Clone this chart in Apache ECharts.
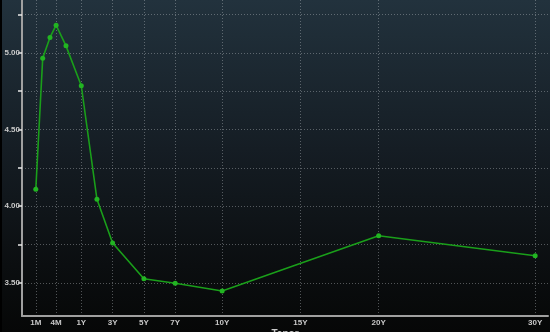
<!DOCTYPE html>
<html>
<head>
<meta charset="utf-8">
<script src="https://cdn.jsdelivr.net/npm/echarts@6/dist/echarts.min.js"></script>
<style>
html,body{margin:0;padding:0;background:#000;}
#chart{width:550px;height:332px;}
</style>
</head>
<body>
<div id="chart"></div>
<script>
// Tenors of the curve and their yields (%)
const tenors = ['1M','2M','3M','4M','6M','1Y','2Y','3Y','5Y','7Y','10Y','20Y','30Y'];
const yields = [4.11, 4.965, 5.10, 5.18, 5.045, 4.785, 4.045, 3.76, 3.527, 3.497, 3.447, 3.807, 3.677];
// Tick labels on the tenor axis
const tickLabels = ['1M','4M','1Y','3Y','5Y','7Y','10Y','15Y','20Y','30Y'];
// Y-axis ticks / labels
const yTicks = [3.5, 3.75, 4.0, 4.25, 4.5, 4.75, 5.0, 5.25];
const yLabels = [3.5, 4.0, 4.5, 5.0];

// Tenor scale: linear in years from 1Y onward, with a stretched short end (< 1Y)
const shortEndKnots = [[1/12, -1.907], [1/6, -1.466], [1/4, -1.0], [1/3, -0.61], [1/2, 0.022], [1, 1]];
function years(label) {
  const n = parseFloat(label);
  return label.slice(-1) === 'M' ? n / 12 : n;
}
function scalePos(y) {
  if (y >= 1) return y;
  for (let i = 0; i < shortEndKnots.length - 1; i++) {
    const a = shortEndKnots[i], b = shortEndKnots[i + 1];
    if (y <= b[0]) {
      const t = (y - a[0]) / (b[0] - a[0]);
      return a[1] + t * (b[1] - a[1]);
    }
  }
  return y;
}
const tickPos = tickLabels.map(l => scalePos(years(l)));
const labelAt = {};
tickLabels.forEach((l, i) => { labelAt[tickPos[i].toFixed(4)] = l; });

const seriesData = tenors.map((t, i) => [scalePos(years(t)), yields[i]]);

const chart = echarts.init(document.getElementById('chart'), null, {renderer: 'canvas'});
const gridColor = 'rgba(190,195,200,0.4)';
chart.setOption({
  animation: false,
  backgroundColor: new echarts.graphic.LinearGradient(0, 0, 0, 1, [
    {offset: 0, color: '#22323d'},
    {offset: 0.45, color: '#151d24'},
    {offset: 0.8, color: '#0b0e10'},
    {offset: 1, color: '#060707'}
  ]),
  grid: {left: 22, right: 2, top: 0, bottom: 16, outerBoundsMode: 'none', containLabel: false},
  xAxis: {
    type: 'value',
    min: -2.789,
    max: 30.82,
    name: 'Tenor',
    nameLocation: 'middle',
    nameGap: 0,
    nameMoveOverlap: false,
    nameTextStyle: {color: '#c8c8c8', fontSize: 10, fontFamily: 'Liberation Sans', fontWeight: 'bold', verticalAlign: 'top', padding: [13, 0, 0, 0]},
    axisLine: {show: true, onZero: false, lineStyle: {color: '#a0a0a0', width: 2}},
    axisTick: {show: false, customValues: tickPos},
    axisLabel: {
      customValues: tickPos,
      color: '#c8c8c8', fontSize: 8, fontFamily: 'Liberation Sans', fontWeight: 'bold', margin: 3,
      formatter: v => labelAt[Number(v).toFixed(4)] || ''
    },
    splitLine: {show: true, customValues: tickPos, lineStyle: {color: gridColor, type: [1, 2], width: 1}}
  },
  yAxis: {
    type: 'value',
    min: 3.284,
    max: 5.344,
    axisLine: {show: true, onZero: false, lineStyle: {color: '#a0a0a0', width: 2}},
    axisTick: {show: true, customValues: yTicks, length: 4, lineStyle: {color: '#e8e8e8', width: 1.5}},
    axisLabel: {
      customValues: yLabels,
      color: '#c8c8c8', fontSize: 8, fontFamily: 'Liberation Sans', fontWeight: 'bold', margin: 2,
      formatter: v => Number(v).toFixed(2)
    },
    splitLine: {show: true, customValues: yTicks, lineStyle: {color: gridColor, type: [1, 2], width: 1}}
  },
  series: [{
    type: 'line',
    data: seriesData,
    lineStyle: {color: '#1a9f1a', width: 1.6},
    itemStyle: {color: '#22b522'},
    symbol: 'circle',
    symbolSize: 5,
    showSymbol: true
  }],
  graphic: [{type: 'rect', left: 0, top: 0, shape: {width: 2, height: 332}, style: {fill: '#000'}, z: 100}]
});
</script>
</body>
</html>
